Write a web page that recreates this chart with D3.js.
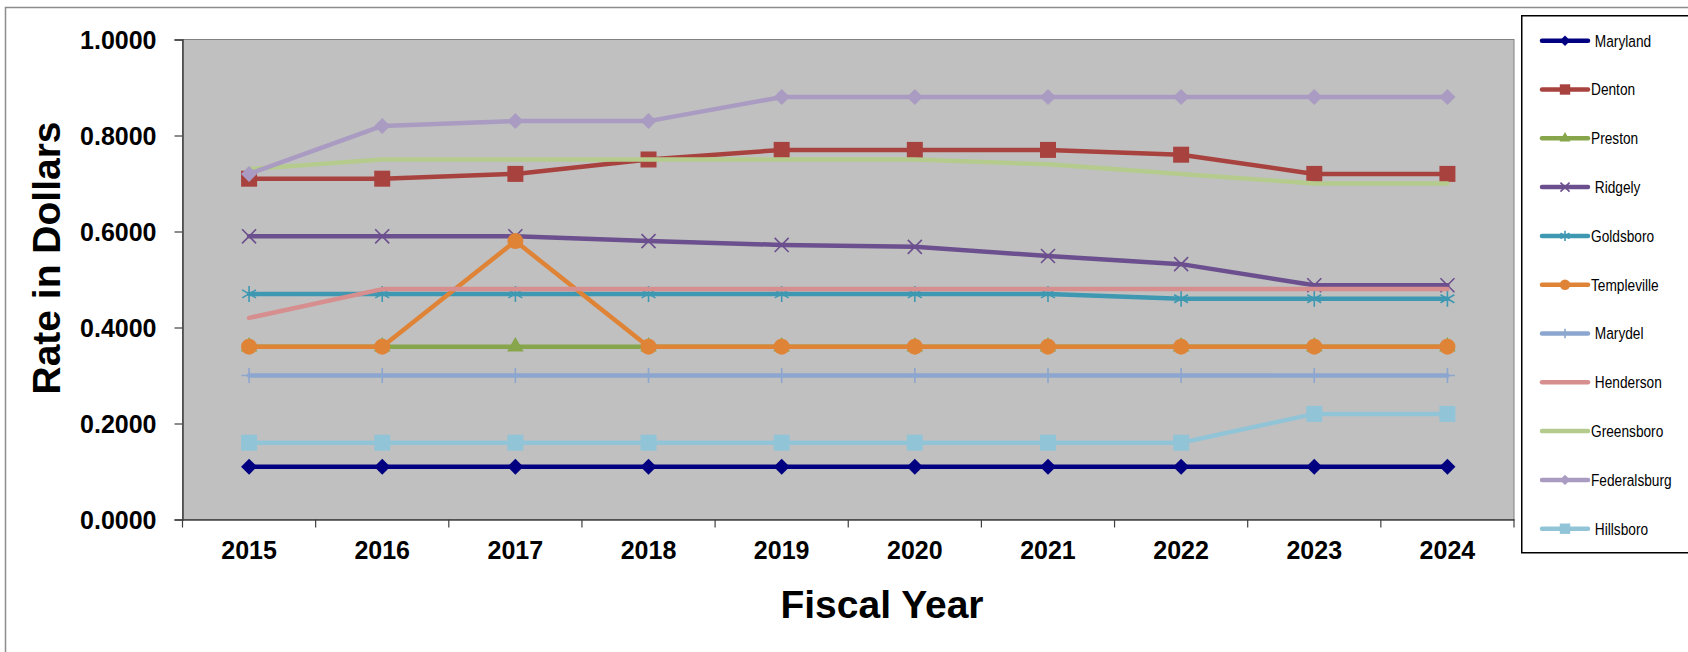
<!DOCTYPE html>
<html>
<head>
<meta charset="utf-8">
<script src="https://cdn.jsdelivr.net/npm/d3@7"></script>
<style>
  html, body { margin: 0; padding: 0; background: #fff; }
  svg { display: block; font-family: "Liberation Sans", Arial, sans-serif; }
</style>
</head>
<body>
<svg id="chart" width="1688" height="652"></svg>
<script>
// Fiscal years on the x axis
var years = ['2015', '2016', '2017', '2018', '2019', '2020', '2021', '2022', '2023', '2024'];
var yTicks = [0, 0.2, 0.4, 0.6, 0.8, 1.0];

// Tax rate per town
var maryland = [0.11, 0.11, 0.11, 0.11, 0.11, 0.11, 0.11, 0.11, 0.11, 0.11];
var denton = [0.71, 0.71, 0.72, 0.75, 0.77, 0.77, 0.77, 0.76, 0.72, 0.72];
var preston = [0.36, 0.36, 0.36, 0.36, 0.36, 0.36, 0.36, 0.36, 0.36, 0.36];
var ridgely = [0.59, 0.59, 0.59, 0.58, 0.572, 0.568, 0.549, 0.532, 0.488, 0.488];
var goldsboro = [0.47, 0.47, 0.47, 0.47, 0.47, 0.47, 0.47, 0.46, 0.46, 0.46];
var templeville = [0.36, 0.36, 0.58, 0.36, 0.36, 0.36, 0.36, 0.36, 0.36, 0.36];
var marydel = [0.30, 0.30, 0.30, 0.30, 0.30, 0.30, 0.30, 0.30, 0.30, 0.30];
var henderson = [0.42, 0.48, 0.48, 0.48, 0.48, 0.48, 0.48, 0.48, 0.48, 0.48];
var greensboro = [0.73, 0.75, 0.75, 0.75, 0.75, 0.75, 0.74, 0.72, 0.70, 0.70];
var federalsburg = [0.72, 0.82, 0.83, 0.83, 0.88, 0.88, 0.88, 0.88, 0.88, 0.88];
var hillsboro = [0.16, 0.16, 0.16, 0.16, 0.16, 0.16, 0.16, 0.16, 0.22, 0.22];

// Series names (some carry a leading space, as in the source sheet)
var names = [' Maryland', 'Denton', 'Preston', ' Ridgely', 'Goldsboro', 'Templeville',
  ' Marydel', ' Henderson', 'Greensboro', 'Federalsburg', ' Hillsboro'];

// Series styles, same order as names
var styles = [
  {color: '#000080', marker: 'diamond'},
  {color: '#A8423F', marker: 'square'},
  {color: '#87A54B', marker: 'triangle'},
  {color: '#6C4F8E', marker: 'times'},
  {color: '#3E98B1', marker: 'asterisk'},
  {color: '#DF8337', marker: 'circle'},
  {color: '#8CA6CF', marker: 'plus'},
  {color: '#D78E8E', marker: null},
  {color: '#B4CB8D', marker: null},
  {color: '#A99BC1', marker: 'diamond'},
  {color: '#92C4D7', marker: 'square'}
];

var seriesValues = [maryland, denton, preston, ridgely, goldsboro, templeville,
  marydel, henderson, greensboro, federalsburg, hillsboro];

var series = names.map(function (name, i) {
  return {name: name, values: seriesValues[i], style: styles[i]};
});

var svg = d3.select('#chart');
var plot = {left: 182.5, right: 1514, top: 39.5, bottom: 519.5};

var x = d3.scaleBand().domain(years).range([plot.left, plot.right]);
var y = d3.scaleLinear().domain([0, 1]).range([plot.bottom, plot.top]);

/**
 * Path for a marker type at a given scale (1 = plot size)
 */
function markerPath(type, k) {
  var sym = d3.symbol();
  if (type === 'diamond') return sym.type(d3.symbolSquare).size(128 * k * k)();
  if (type === 'square') return sym.type(d3.symbolSquare).size(256 * k * k)();
  if (type === 'circle') return sym.type(d3.symbolCircle).size(201 * k * k)();
  if (type === 'triangle') return sym.type(d3.symbolTriangle).size(120 * k * k)();
  if (type === 'times') return sym.type(d3.symbolTimes).size(130 * k * k)();
  if (type === 'plus') return sym.type(d3.symbolPlus).size(75 * k * k)();
  if (type === 'asterisk') return sym.type(d3.symbolAsterisk).size(181 * k * k)();
  return null;
}

function isStrokeMarker(type) {
  return type === 'times' || type === 'plus' || type === 'asterisk';
}

function drawMarker(g, type, color, cx, cy, k) {
  var p = g.append('path')
      .attr('d', markerPath(type, k))
      .attr('transform', 'translate(' + cx + ',' + cy + ')' + (type === 'diamond' ? ' rotate(45)' : ''));
  if (isStrokeMarker(type)) {
    p.attr('fill', 'none').attr('stroke', color).attr('stroke-width', 1.6);
  } else {
    p.attr('fill', color);
  }
}

// Outer chart frame (only left and top edges are in view)
svg.append('path')
    .attr('d', 'M5.5,652 V7.5 H1688')
    .attr('fill', 'none')
    .attr('stroke', '#8c8c8c')
    .attr('stroke-width', 1.5);

// Plot area
svg.append('rect')
    .attr('x', plot.left)
    .attr('y', plot.top)
    .attr('width', plot.right - plot.left)
    .attr('height', plot.bottom - plot.top)
    .attr('fill', '#C0C0C0')
    .attr('stroke', '#808080')
    .attr('stroke-width', 1);

// Y axis
var yAxis = svg.append('g')
    .attr('transform', 'translate(' + plot.left + ',0)')
    .call(d3.axisLeft(y).tickValues(yTicks).tickFormat(d3.format('.4f')).tickSize(8).tickPadding(18));
yAxis.select('.domain').attr('stroke', '#404040').attr('stroke-width', 1.5);
yAxis.selectAll('.tick line').attr('stroke', '#404040').attr('stroke-width', 1.2);
yAxis.selectAll('.tick text')
    .attr('font-family', '"Liberation Sans", Arial, sans-serif')
    .attr('font-size', 25)
    .attr('font-weight', 'bold')
    .attr('fill', '#000')
    .attr('dy', '0.36em');

// X axis: labels centered in each band, ticks on band edges
var xAxis = svg.append('g')
    .attr('transform', 'translate(0,' + plot.bottom + ')')
    .call(d3.axisBottom(x).tickSize(0).tickPadding(22));
xAxis.select('.domain').attr('stroke', '#404040').attr('stroke-width', 1.5);
xAxis.selectAll('.tick text')
    .attr('font-family', '"Liberation Sans", Arial, sans-serif')
    .attr('font-size', 25)
    .attr('font-weight', 'bold')
    .attr('fill', '#000');

var edges = years.map(function (d) { return x(d); }).concat([x(years[years.length - 1]) + x.bandwidth()]);
xAxis.selectAll('.edge')
    .data(edges)
    .enter().append('line')
    .attr('class', 'edge')
    .attr('x1', function (d) { return d; })
    .attr('x2', function (d) { return d; })
    .attr('y1', 0)
    .attr('y2', 8)
    .attr('stroke', '#404040')
    .attr('stroke-width', 1.2);

// Axis titles
svg.append('text')
    .attr('transform', 'translate(60,258) rotate(-90)')
    .attr('text-anchor', 'middle')
    .attr('font-size', 39)
    .attr('font-weight', 'bold')
    .text('Rate in Dollars');

svg.append('text')
    .attr('x', 882)
    .attr('y', 618)
    .attr('text-anchor', 'middle')
    .attr('font-size', 39)
    .attr('font-weight', 'bold')
    .text('Fiscal Year');

// Series lines and markers, drawn in sheet order
var line = d3.line()
    .x(function (d, i) { return x(years[i]) + x.bandwidth() / 2; })
    .y(function (d) { return y(d); });

series.forEach(function (s) {
  var g = svg.append('g').attr('class', 'series');
  g.append('path')
      .attr('d', line(s.values))
      .attr('fill', 'none')
      .attr('stroke', s.style.color)
      .attr('stroke-width', 4.5)
      .attr('stroke-linejoin', 'round')
      .attr('stroke-linecap', 'round');
  if (s.style.marker) {
    s.values.forEach(function (v, i) {
      drawMarker(g, s.style.marker, s.style.color, x(years[i]) + x.bandwidth() / 2, y(v), 1);
    });
  }
});

// Legend
var legend = svg.append('g').attr('class', 'legend');
legend.append('rect')
    .attr('x', 1521.75)
    .attr('y', 15.75)
    .attr('width', 200)
    .attr('height', 537)
    .attr('fill', '#fff')
    .attr('stroke', '#000')
    .attr('stroke-width', 1.5);

series.forEach(function (s, i) {
  var cy = 40.7 + i * 48.8;
  var g = legend.append('g');
  g.append('line')
      .attr('x1', 1542)
      .attr('x2', 1588)
      .attr('y1', cy)
      .attr('y2', cy)
      .attr('stroke', s.style.color)
      .attr('stroke-width', 4.5)
      .attr('stroke-linecap', 'round');
  if (s.style.marker) {
    drawMarker(g, s.style.marker, s.style.color, 1565, cy, 0.65);
  }
  g.append('text')
      .attr('transform', 'translate(1591,' + cy + ') scale(0.83,1)')
      .attr('dy', '0.36em')
      .attr('font-size', 16.5)
      .style('white-space', 'pre')
      .text(s.name);
});
</script>
</body>
</html>
